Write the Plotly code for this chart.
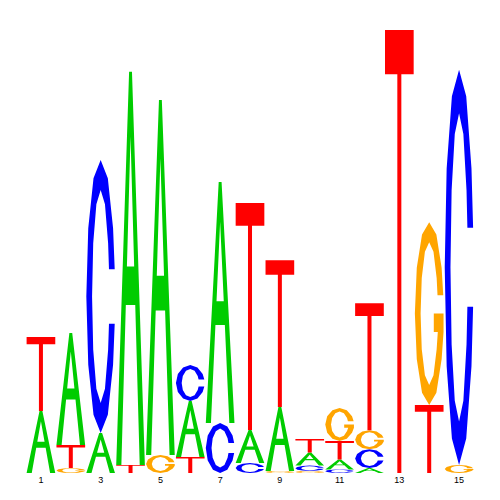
import math
import plotly.graph_objects as go

# ---- data (bits), bottom-to-top stacking order per position ----
positions = list(range(1, 16))
A_bits = [0.276, 0.498, 0.178, 1.747, 1.578, 0.249, 1.071, 0.147, 0.284, 0.058, 0.044, 0.022, 0.0, 0.0, 0.0]
C_bits = [0.0, 0.0, 1.213, 0.0, 0.0, 0.160, 0.222, 0.044, 0.0, 0.024, 0.016, 0.084, 0.0, 0.0, 1.756]
G_bits = [0.0, 0.022, 0.0, 0.0, 0.080, 0.0, 0.0, 0.0, 0.009, 0.009, 0.147, 0.084, 0.0, 0.813, 0.036]
T_bits = [0.329, 0.102, 0.0, 0.036, 0.0, 0.071, 0.0, 1.009, 0.653, 0.060, 0.082, 0.564, 1.969, 0.302, 0.0]
stack_order = ["AT", "GTA", "AC", "TA", "GA", "TAC", "CA", "CAT", "GAT", "GCAT",
               "CATG", "ACGT", "T", "TG", "GC"]
tick_values = [1, 3, 5, 7, 9, 11, 13, 15]
tick_labels = ["1", "3", "5", "7", "9", "11", "13", "15"]

colors = {"A": "#00CC00", "C": "#0000FF", "G": "#FFA500", "T": "#FF0000"}
heights = {"A": A_bits, "C": C_bits, "G": G_bits, "T": T_bits}

# ---- glyph outlines in a unit box ----
def ell(a_deg, rx, ry):
    a = math.radians(a_deg)
    return (0.5 + rx * math.cos(a), 0.5 + ry * math.sin(a))

def glyph_A():
    k = 0.32 / 0.835
    y1, y2 = 0.407, 0.505
    outer = [(0, 0), (0.45, 1), (0.55, 1), (1, 0), (0.82, 0),
             (0.82 - k * y1, y1), (0.18 + k * y1, y1), (0.18, 0)]
    hole = [(0.18 + k * y2, y2), (0.5, 0.835), (0.82 - k * y2, y2)]
    return [outer, hole]

RXO, RYO, RXI, RYI = 0.5, 0.5, 0.3, 0.39
STEP = 30

def xo(y):
    d = (y - 0.5) / RYO
    return 0.5 + RXO * math.sqrt(max(0, 1 - d * d))

def xi(y):
    d = (y - 0.5) / RYI
    return 0.5 + RXI * math.sqrt(max(0, 1 - d * d))

def glyph_C():
    yt, yb = 0.6, 0.4
    pts = [(xo(yt), yt)]
    pts += [ell(a, RXO, RYO) for a in range(30, 331, STEP)]
    pts += [(xo(yb), yb), (xi(yb), yb)]
    pts += [ell(a, RXI, RYI) for a in range(330, 29, -STEP)]
    pts += [(xi(yt), yt)]
    return [pts]

def glyph_G():
    yt = 0.6
    pts = [(xo(yt), yt)]
    pts += [ell(a, RXO, RYO) for a in range(30, 331, STEP)]
    pts += [(1.0, 0.4), (1.0, 0.5), (0.66, 0.5), (0.66, 0.4), (0.8, 0.4)]
    pts += [ell(a, RXI, RYI) for a in range(330, 29, -STEP)]
    pts += [(xi(yt), yt)]
    return [pts]

def glyph_T():
    return [[(0, 1), (1, 1), (1, 0.9), (0.57, 0.9), (0.57, 0), (0.43, 0), (0.43, 0.9), (0, 0.9)]]

glyphs = {"A": glyph_A(), "C": glyph_C(), "G": glyph_G(), "T": glyph_T()}

WIDTH = 0.96
shapes = []
for i, pos in enumerate(positions):
    base = 0.0
    for letter in stack_order[i]:
        h = heights[letter][i]
        if h <= 0:
            continue
        x0 = pos - WIDTH / 2
        path = ""
        for poly in glyphs[letter]:
            path += "M" + " L".join(f"{x0 + u * WIDTH:.5f},{base + v * h:.5f}" for u, v in poly) + " Z "
        shapes.append(dict(type="path", xref="x", yref="y", path=path.strip(),
                           fillcolor=colors[letter], line=dict(width=0),
                           fillrule="evenodd", layer="above"))
        base += h

fig = go.Figure()
fig.add_trace(go.Scatter(x=positions, y=[0] * len(positions), mode="markers",
                         marker=dict(opacity=0), hoverinfo="skip", showlegend=False))
fig.update_layout(
    width=500, height=500,
    margin=dict(l=18, r=34, t=15, b=35),
    paper_bgcolor="white", plot_bgcolor="white",
    shapes=shapes,
    showlegend=False,
    xaxis=dict(range=[0.5, 15.5], tickmode="array", tickvals=tick_values, ticktext=tick_labels,
               showgrid=False, zeroline=False, showline=False, ticks="",
               tickfont=dict(family="Liberation Sans, Arial", size=9, color="black")),
    yaxis=dict(range=[0, 2], showgrid=False, zeroline=False, showline=False,
               showticklabels=False, ticks=""),
)
fig.write_html("out.html")
